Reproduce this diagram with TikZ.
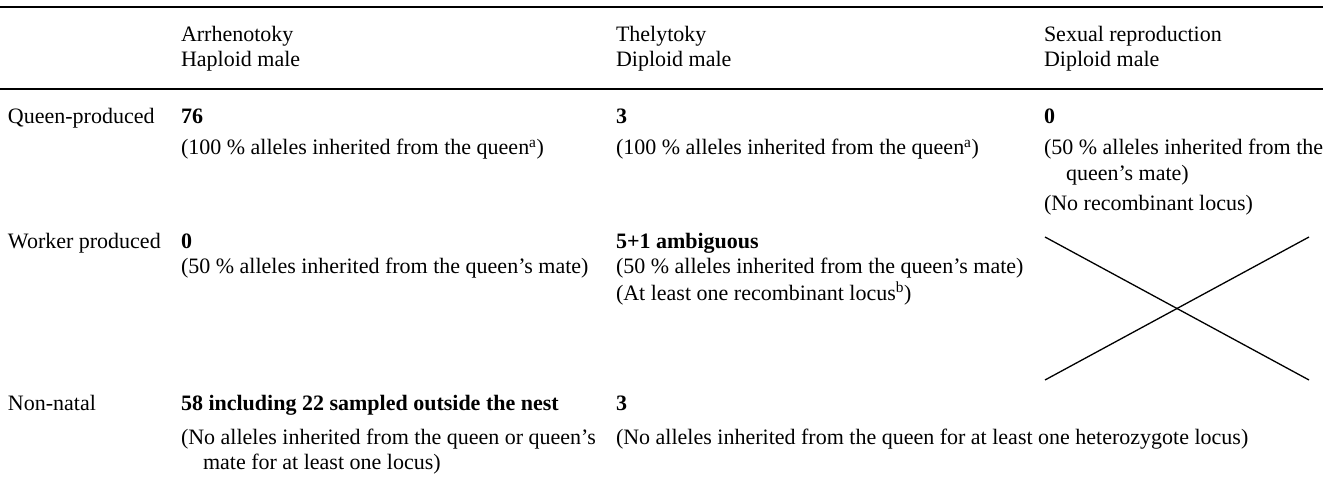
\documentclass[tikz,border=0pt]{standalone}
\usepackage{fontspec}
\setmainfont{Liberation Serif}
\begin{document}
\begin{tikzpicture}[x=1pt,y=-1pt,
  cell/.style={anchor=base west, inner sep=0pt, outer sep=0pt, font=\fontsize{22}{26}\selectfont},
  rulestyle/.style={line width=2pt, line cap=butt},
  crossline/.style={line width=1.3pt}]
\useasboundingbox (0,0) rectangle (1336,484);
% rules
\coordinate (ta) at (0,7.5);   \coordinate (tb) at (1323,7.5);
\coordinate (ha) at (0,89);    \coordinate (hb) at (1323,89);
\draw[rulestyle] (ta) -- (tb);
\draw[rulestyle] (ha) -- (hb);
% header
\node[cell] (hA)  at (181,42) {Arrhenotoky};
\node[cell] (hA2) at (181,67) {Haploid male};
\node[cell] (hT)  at (616,42) {Thelytoky};
\node[cell] (hT2) at (616,67) {Diploid male};
\node[cell] (hS)  at (1044,42) {Sexual reproduction};
\node[cell] (hS2) at (1044,67) {Diploid male};
% row 1
\node[cell] (rQ)  at (8,124) {Queen-produced};
\node[cell] (q1)  at (181,124) {\textbf{76}};
\node[cell] (q1p) at (181,155) {(100 \% alleles inherited from the queen\textsuperscript{a})};
\node[cell] (q2)  at (616,124) {\textbf{3}};
\node[cell] (q2p) at (616,155) {(100 \% alleles inherited from the queen\textsuperscript{a})};
\node[cell] (q3)  at (1044,124) {\textbf{0}};
\node[cell] (q3p) at (1044,155) {(50 \% alleles inherited from the};
\node[cell] (q3w) at (1066,180) {queen’s mate)};
\node[cell] (q3r) at (1044,210) {(No recombinant locus)};
% row 2
\node[cell] (rW)  at (8,248) {Worker produced};
\node[cell] (w1)  at (181,248) {\textbf{0}};
\node[cell] (w1p) at (181,273) {(50 \% alleles inherited from the queen’s mate)};
\node[cell] (w2)  at (616,248) {\textbf{5+1 ambiguous}};
\node[cell] (w2p) at (616,273) {(50 \% alleles inherited from the queen’s mate)};
\node[cell] (w2r) at (616,300) {(At least one recombinant locus\textsuperscript{b})};
% cross
\coordinate (xa) at (1045,237); \coordinate (xb) at (1309,380);
\coordinate (xc) at (1045,380); \coordinate (xd) at (1309,237);
\draw[crossline] (xa) -- (xb);
\draw[crossline] (xc) -- (xd);
% row 3
\node[cell] (rN)  at (8,410) {Non-natal};
\node[cell] (n1)  at (181,410) {\textbf{58 including 22 sampled outside the nest}};
\node[cell] (n1p) at (181,444) {(No alleles inherited from the queen or queen’s};
\node[cell] (n1w) at (203,469) {mate for at least one locus)};
\node[cell] (n2)  at (616,410) {\textbf{3}};
\node[cell] (n2p) at (616,444) {(No alleles inherited from the queen for at least one heterozygote locus)};
\end{tikzpicture}
\end{document}
